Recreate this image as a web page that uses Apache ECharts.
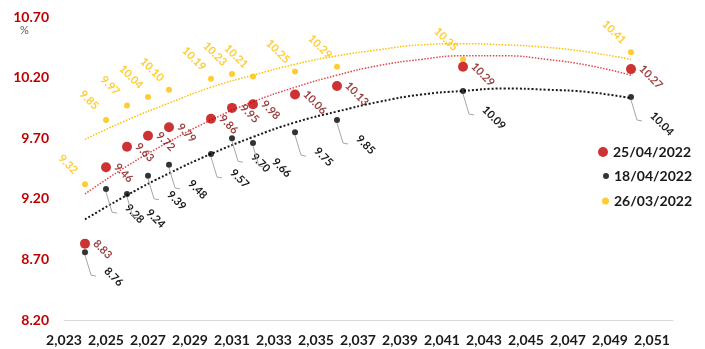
<!DOCTYPE html>
<html>
<head>
<meta charset="utf-8">
<title>Curva de tasas</title>
<script src="https://cdn.jsdelivr.net/npm/echarts@6/dist/echarts.min.js"></script>
<style>
  html, body { margin: 0; padding: 0; background: #fff; }
  #main { width: 705px; height: 349px; }
</style>
</head>
<body>
<div id="main"></div>
<script>
// plazos (años) y tasas por fecha de corte
var years = [2024, 2025, 2026, 2027, 2028, 2030, 2031, 2032, 2034, 2036, 2042, 2050];
var apr25 = [8.83, 9.46, 9.63, 9.72, 9.79, 9.86, 9.95, 9.98, 10.06, 10.13, 10.29, 10.27];
var apr18 = [8.76, 9.28, 9.24, 9.39, 9.48, 9.57, 9.70, 9.66, 9.75, 9.85, 10.09, 10.04];
var mar26 = [9.32, 9.85, 9.97, 10.04, 10.10, 10.19, 10.23, 10.21, 10.25, 10.29, 10.35, 10.41];

// lineas de tendencia
var trendYears = [2024, 2026, 2028, 2030, 2032, 2034, 2036, 2038, 2040, 2042, 2044, 2046, 2048, 2050];
var trendApr25 = [9.24, 9.47, 9.67, 9.85, 10.00, 10.12, 10.22, 10.30, 10.35, 10.38, 10.38, 10.35, 10.30, 10.22];
var trendApr18 = [9.03, 9.23, 9.41, 9.57, 9.71, 9.83, 9.92, 10.00, 10.06, 10.09, 10.11, 10.10, 10.08, 10.03];
var trendMar26 = [9.69, 9.85, 9.99, 10.12, 10.22, 10.31, 10.38, 10.43, 10.47, 10.48, 10.47, 10.45, 10.41, 10.35];

var seriesNames = ['25/04/2022', '18/04/2022', '26/03/2022'];

var font = 'Lato';

function pairs(xs, ys) {
  var res = [];
  for (var i = 0; i < xs.length; i++) {
    res.push([xs[i], ys[i]]);
  }
  return res;
}

function withComma(v) {
  return String(v).replace(/\B(?=(\d{3})+(?!\d))/g, ',');
}

function trendLine(name, data, color, width) {
  return {
    name: name,
    type: 'line',
    data: pairs(trendYears, data),
    smooth: true,
    symbol: 'none',
    silent: true,
    z: 1,
    lineStyle: { color: color, width: width, type: [width, width] }
  };
}

var chart = echarts.init(document.getElementById('main'));

var legendText = { fontFamily: font, fontSize: 14, fontWeight: 'bold', color: '#1a1a1a' };

var option = {
  animation: false,
  textStyle: { fontFamily: font },
  grid: { left: 64, right: 32, top: 17, bottom: 29 },
  xAxis: {
    type: 'value',
    min: 2023,
    max: 2052,
    interval: 2,
    axisLine: { lineStyle: { color: '#d9d9d9', width: 1 } },
    axisTick: { show: false },
    splitLine: { show: false },
    axisLabel: {
      showMaxLabel: false,
      margin: 13,
      color: '#1a1a1a',
      fontFamily: font,
      fontWeight: 'bold',
      fontSize: 14,
      formatter: withComma
    }
  },
  yAxis: {
    type: 'value',
    min: 8.2,
    max: 10.7,
    interval: 0.5,
    axisLine: { show: false },
    axisTick: { show: false },
    splitLine: { show: false },
    axisLabel: {
      margin: 15,
      color: '#c00000',
      fontFamily: font,
      fontWeight: 'bold',
      fontSize: 14,
      formatter: function (v) { return v.toFixed(2); }
    }
  },
  legend: [
    { data: [seriesNames[0]], orient: 'vertical', left: 598, top: 145, padding: 0,
      itemWidth: 10, itemHeight: 10, icon: 'circle', selectedMode: false, textStyle: legendText },
    { data: [seriesNames[1]], orient: 'vertical', left: 603, top: 169, padding: 0,
      itemWidth: 6, itemHeight: 6, icon: 'circle', selectedMode: false, textStyle: legendText },
    { data: [seriesNames[2]], orient: 'vertical', left: 602, top: 194, padding: 0,
      itemWidth: 7, itemHeight: 7, icon: 'circle', selectedMode: false, textStyle: legendText }
  ],
  graphic: [
    { type: 'text', left: 20, top: 25, style: { text: '%', fill: '#595959', font: '11px Lato' } }
  ],
  series: [
    trendLine('tend ' + seriesNames[2], trendMar26, '#ffc000', 1.5),
    trendLine('tend ' + seriesNames[0], trendApr25, '#e0474c', 1.5),
    trendLine('tend ' + seriesNames[1], trendApr18, '#1a1a1a', 2),
    {
      name: seriesNames[2],
      type: 'scatter',
      data: pairs(years, mar26),
      symbolSize: 6,
      z: 3,
      itemStyle: { color: '#ffc000' },
      label: {
        show: true,
        position: [-14, -17],
        align: 'center',
        verticalAlign: 'middle',
        rotate: -45,
        color: '#ffc000',
        fontFamily: font,
        fontSize: 11,
        fontWeight: 'bold',
        formatter: function (p) { return p.value[1].toFixed(2); }
      }
    },
    {
      name: seriesNames[0],
      type: 'scatter',
      data: pairs(years, apr25),
      symbolSize: 10,
      z: 3,
      itemStyle: { color: '#c00000' },
      label: {
        show: true,
        position: [15, 3],
        align: 'left',
        verticalAlign: 'middle',
        rotate: -45,
        color: '#7f1010',
        fontFamily: font,
        fontSize: 11,
        fontWeight: 'bold',
        formatter: function (p) { return p.value[1].toFixed(2); }
      }
    },
    {
      name: seriesNames[1],
      type: 'scatter',
      data: pairs(years, apr18),
      symbolSize: 6,
      z: 4,
      itemStyle: { color: '#000' }
    },
    {
      // etiquetas con linea guia para 18/04
      name: 'etiquetas ' + seriesNames[1],
      type: 'custom',
      data: pairs(years, apr18),
      z: 2,
      silent: true,
      renderItem: function (params, api) {
        var pt = api.coord([api.value(0), api.value(1)]);
        var x = pt[0], y = pt[1];
        return {
          type: 'group',
          children: [
            {
              type: 'polyline',
              shape: { points: [[x, y + 3], [x + 6, y + 23], [x + 11, y + 24]] },
              style: { stroke: '#a6a6a6', lineWidth: 1, fill: null }
            },
            {
              type: 'text',
              x: x + 21,
              y: y + 17,
              rotation: -Math.PI / 4,
              style: {
                text: api.value(1).toFixed(2),
                fill: '#1a1a1a',
                font: 'bold 11px Lato',
                align: 'left',
                verticalAlign: 'middle'
              }
            }
          ]
        };
      }
    }
  ]
};

option && chart.setOption(option);
</script>
</body>
</html>
